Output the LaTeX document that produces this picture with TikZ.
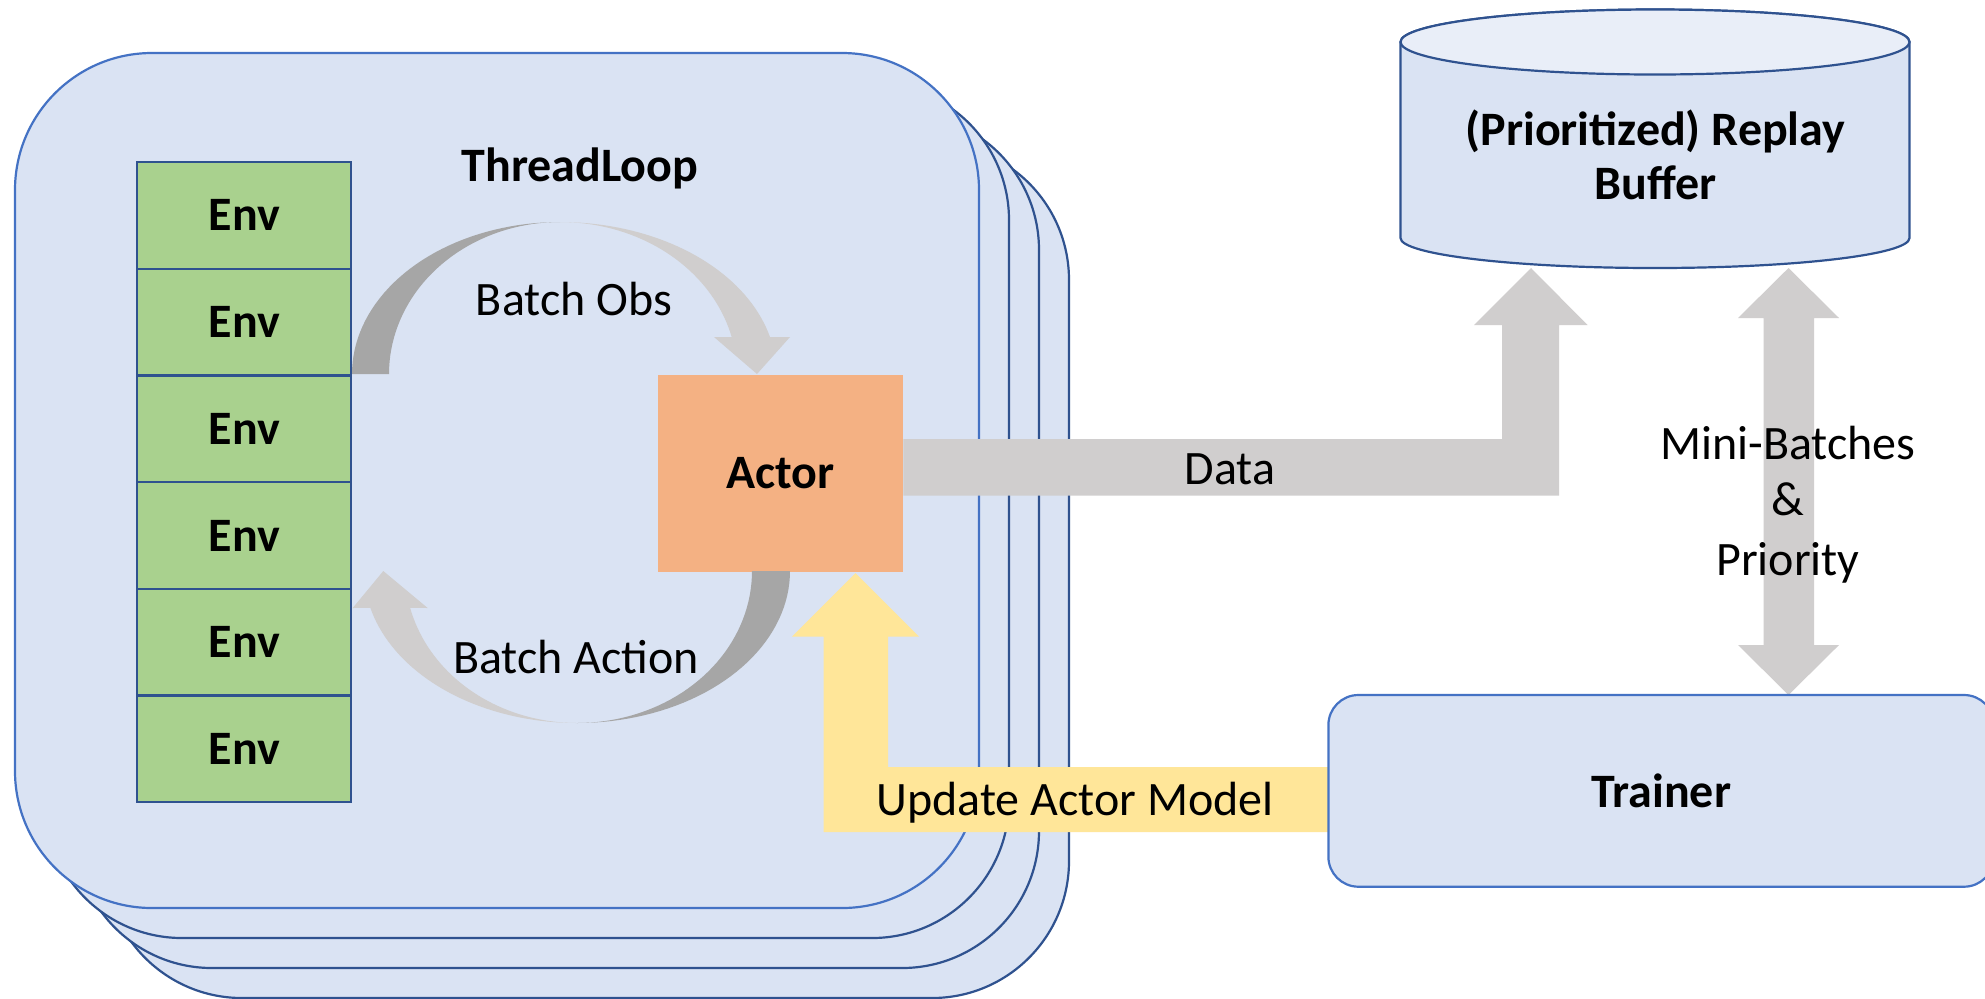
\documentclass[tikz,border=0pt]{standalone}
\usepackage{fontspec}
\setmainfont{Carlito}
\usetikzlibrary{calc}
\definecolor{loopfill}{HTML}{DAE3F3}
\definecolor{loopedge}{HTML}{4472C4}
\definecolor{deepedge}{HTML}{2F528F}
\definecolor{envfill}{HTML}{A9D18E}
\definecolor{actorfill}{HTML}{F4B183}
\definecolor{flowgray}{HTML}{D0CECE}
\definecolor{shadegray}{HTML}{A6A6A6}
\definecolor{modelyellow}{HTML}{FFE699}
\definecolor{lidfill}{HTML}{E9EEF8}
\begin{document}
\begin{tikzpicture}[x=0.5pt, y=-0.5pt,
  txt/.style={inner sep=0pt, font=\fontsize{24}{28}\selectfont},
  btxt/.style={inner sep=0pt, font=\fontsize{24}{28}\selectfont\bfseries},
  loopbox/.style={fill=loopfill, line width=1.1pt, rounded corners=68.5pt},
  envcell/.style={btxt, draw=deepedge, fill=envfill, line width=1.1pt,
    minimum width=107pt, minimum height=53.35pt},
  flow/.style={fill=flowgray},
  flowshade/.style={fill=shadegray},
  modelflow/.style={fill=modelyellow},
]
\useasboundingbox (0,0) rectangle (1985,998);
\fill[white] (0,0) rectangle (1985,998);

% stacked thread loops, back to front
\foreach \k in {3,2,1}
  \draw[loopbox, draw=deepedge] ({15+30*\k},{53+30*\k}) rectangle ({979+30*\k},{908+30*\k});
\draw[loopbox, draw=loopedge] (15,53) rectangle (979,908);
\node[btxt, anchor=base] (looptitle) at (580,181) {ThreadLoop};

% environment column
\foreach \i in {1,...,6}
  \node[envcell] (env\i) at (244.3,{108.65+106.7*\i}) {Env};

% actor
\node[btxt, fill=actorfill, minimum width=122.5pt, minimum height=98.3pt] (actor) at (780.5,473.3) {Actor};

% curved arrow: observations from the envs to the actor
\fill[flowshade] plot[domain=90:180, samples=40] ({560+208*cos(270-\x)},{374-152*sin(270-\x)})
  -- plot[domain=90:180, samples=40] ({560+171*cos(\x)},{374-152*sin(\x)}) -- cycle;
\fill[flow] plot[domain=14:90, samples=40] ({560+216.5*cos(104-\x)},{374-152*sin(104-\x)})
  -- (790,337) -- (757,374) -- (714,337)
  -- plot[domain=14:90, samples=40] ({560+177*cos(\x)},{374-152*sin(\x)}) -- cycle;
\node[txt, anchor=base] (obslbl) at (574,315) {Batch Obs};

% curved arrow: actions from the actor back to the envs
\fill[flowshade] plot[domain=0:90, samples=40] ({577+213*cos(\x)},{571+152*sin(\x)})
  -- plot[domain=0:90, samples=40] ({577+175*cos(90-\x)},{571+152*sin(90-\x)}) -- cycle;
\fill[flow] plot[domain=90:166, samples=40] ({577+213*cos(\x)},{571+152*sin(\x)})
  -- (352.7,608) -- (383.3,571) -- (427.7,608)
  -- plot[domain=90:166, samples=40] ({577+172*cos(256-\x)},{571+152*sin(256-\x)}) -- cycle;
\node[txt, anchor=base] (actlbl) at (576,673) {Batch Action};

% replay buffer cylinder
\filldraw[fill=loopfill, draw=deepedge, line width=1.1pt]
  (1400.5,42) -- (1400.5,238)
  arc[start angle=180, end angle=360, x radius=254.5pt/2, y radius=15pt]
  -- (1909.5,42)
  arc[start angle=0, end angle=180, x radius=254.5pt/2, y radius=16.25pt] -- cycle;
\filldraw[fill=lidfill, draw=deepedge, line width=1.1pt]
  (1655,42) ellipse[x radius=254.5pt/2, y radius=16.25pt];
\node[btxt, anchor=base] (buftitle) at (1655.5,145) {(Prioritized) Replay};
\node[btxt, anchor=base] (bufsub) at (1655.5,199) {Buffer};

% data from the actor into the buffer
\fill[flow] (actor.east |- 0,439) -- (1502,439) -- (1502,325) -- (1474,325) -- (1531,268)
  -- (1587.5,325) -- (1559,325) -- (1559,495.7) -- (actor.east |- 0,495.7) -- cycle;
\node[txt, anchor=base] (datalbl) at (1230,484) {Data};

% sampling between buffer and trainer
\fill[flow] (1763.5,318) -- (1738,318) -- (1788.5,268) -- (1839,318) -- (1814,318)
  -- (1814,645) -- (1839,645) -- (1788.5,695) -- (1738,645) -- (1763.5,645) -- cycle;
\node[txt, anchor=base] (mb1) at (1788,459.5) {Mini-Batches};
\node[txt, anchor=base] (mb2) at (1788,515.6) {\&};
\node[txt, anchor=base] (mb3) at (1788,575) {Priority};

% model update from the trainer to the actor
\coordinate (trainleft) at (1328.4,790);
\fill[modelflow] (trainleft |- 0,767) -- (888,767) -- (888,636.5) -- (919,636.5) -- (855.5,573)
  -- (792,636.5) -- (823.5,636.5) -- (823.5,832) -- (trainleft |- 0,832) -- cycle;
\node[txt, anchor=base] (updlbl) at (1075,815) {Update Actor Model};

% trainer
\node[btxt, draw=loopedge, fill=loopfill, line width=1.1pt, rounded corners=15pt,
  minimum width=332.8pt, minimum height=95.85pt] (trainer) at (1661.2,790.85) {Trainer};
\end{tikzpicture}
\end{document}
